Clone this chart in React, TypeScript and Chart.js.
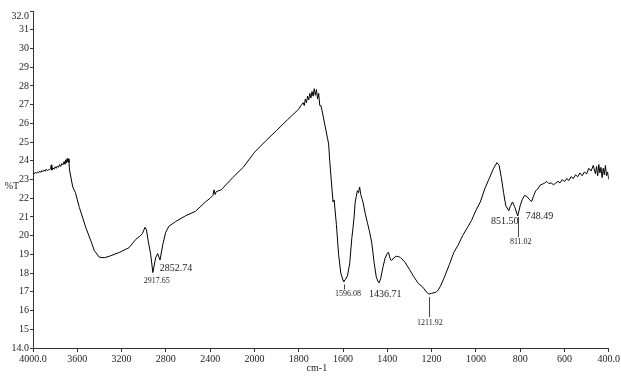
import React, { useEffect, useRef } from "react";
import { Chart, registerables } from "chart.js";

Chart.register(...registerables);

// ---- data ----
const wavenumbers: number[] = [
  4000, 3990, 3980, 3970, 3960, 3950, 3940, 3930, 3920, 3910, 3900, 3890, 3880, 3870, 3860,
  3850, 3840, 3835, 3830, 3820, 3810, 3800, 3790, 3780, 3770, 3760, 3750, 3740, 3730, 3720,
  3712, 3705, 3698, 3692, 3686, 3680, 3675, 3670, 3641, 3617, 3581, 3521, 3476, 3446, 3401,
  3356, 3311, 3222, 3132, 3072, 3042, 3013, 2988, 2975, 2959, 2937, 2917.65, 2892, 2874,
  2852.74, 2827, 2802, 2773, 2713, 2623, 2533, 2443, 2400, 2375, 2365, 2355, 2345, 2300,
  2200, 2100, 2000, 1950, 1900, 1850, 1800, 1790, 1780, 1775, 1770, 1765, 1760, 1755, 1750,
  1745, 1740, 1735, 1730, 1725, 1720, 1715, 1710, 1705, 1700, 1695, 1690, 1680, 1670, 1665,
  1660, 1650, 1645, 1640, 1630, 1620, 1610, 1600, 1596.08, 1590, 1580, 1570, 1560, 1555,
  1550, 1545, 1540, 1535, 1530, 1525, 1520, 1515, 1510, 1500, 1490, 1480, 1470, 1460, 1450,
  1440, 1436.71, 1430, 1420, 1410, 1400, 1395, 1390, 1385, 1380, 1370, 1360, 1350, 1340,
  1320, 1300, 1280, 1260, 1240, 1220, 1211.92, 1200, 1180, 1170, 1160, 1140, 1120, 1100,
  1080, 1060, 1040, 1020, 1000, 980, 960, 940, 920, 905, 895, 885, 875, 865, 851.5, 845,
  835, 825, 811.02, 800, 790, 780, 770, 760, 748.49, 740, 730, 720, 710, 700, 690, 680, 670,
  660, 650, 640, 630, 620, 610, 600, 590, 580, 570, 560, 550, 540, 530, 520, 510, 500, 490,
  480, 470, 460, 455, 450, 445, 440, 435, 430, 425, 420, 415, 410, 405, 400,
];

const transmittance: number[] = [
  23.35, 23.3, 23.38, 23.33, 23.4, 23.36, 23.45, 23.38, 23.48, 23.42, 23.5, 23.44, 23.55, 23.47, 23.52,
  23.52, 23.6, 23.78, 23.5, 23.62, 23.55, 23.68, 23.6, 23.72, 23.65, 23.8, 23.7, 23.85, 23.78, 23.95,
  23.82, 24.05, 23.88, 24.12, 23.95, 24.1, 23.9, 23.5, 22.6, 22.3, 21.5, 20.4, 19.7, 19.2, 18.85,
  18.82, 18.9, 19.1, 19.36, 19.8, 19.94, 20.1, 20.45, 20.3, 19.7, 19.0, 18.03, 18.83, 19.04,
  18.7, 19.55, 20.17, 20.5, 20.75, 21.06, 21.3, 21.8, 22.0, 22.15, 22.45, 22.2, 22.35, 22.45,
  23.08, 23.66, 24.45, 25.05, 25.62, 26.2, 26.76, 26.95, 27.1, 26.95, 27.3, 27.1, 27.45, 27.25, 27.6,
  27.35, 27.7, 27.45, 27.85, 27.5, 27.8, 27.3, 27.6, 26.95, 26.95, 26.7, 26.4, 25.8, 25.2, 24.9,
  24.0, 22.5, 21.8, 21.9, 20.6, 19.0, 18.0, 17.62, 17.55, 17.65, 17.85, 18.5, 19.9, 20.4,
  21.0, 21.8, 22.1, 22.4, 22.3, 22.6, 22.2, 22.0, 21.8, 21.2, 20.7, 20.2, 19.6, 18.6, 17.8,
  17.5, 17.48, 17.7, 18.3, 18.8, 19.05, 19.12, 18.9, 18.7, 18.68, 18.82, 18.9, 18.88, 18.83,
  18.58, 18.2, 17.8, 17.45, 17.25, 16.95, 16.88, 16.92, 16.98, 17.1, 17.3, 17.85, 18.45, 19.1,
  19.5, 20.0, 20.4, 20.8, 21.35, 21.8, 22.5, 23.05, 23.6, 23.9, 23.75, 23.1, 22.3, 21.6, 21.33, 21.55,
  21.8, 21.55, 21.05, 21.6, 21.95, 22.15, 22.1, 21.95, 21.82, 22.1, 22.4, 22.5, 22.7, 22.75, 22.8, 22.9, 22.78,
  22.82, 22.72, 22.8, 22.9, 22.82, 23.0, 22.88, 23.05, 22.95, 23.15, 23.05, 23.25, 23.15, 23.35, 23.2, 23.4, 23.3, 23.6,
  23.45, 23.75, 23.3, 23.7, 23.2, 23.8, 23.35, 23.65, 23.1, 23.6, 23.25, 23.75, 23.2, 23.4, 23.0,
];

const xTickValues: number[] = [4000, 3600, 3200, 2800, 2400, 2000, 1800, 1600, 1400, 1200, 1000, 800, 600, 400];
const xTickLabels: string[] = ["4000.0", "3600", "3200", "2800", "2400", "2000", "1800", "1600", "1400", "1200", "1000", "800", "600", "400.0"];
const yTickValues: number[] = [14, 15, 16, 17, 18, 19, 20, 21, 22, 23, 24, 25, 26, 27, 28, 29, 30, 31, 32];
const yTickLabels: string[] = ["14.0", "15", "16", "17", "18", "19", "20", "21", "22", "23", "24", "25", "26", "27", "28", "29", "30", "31", "32.0"];

const peakWavenumbers: number[] = [2917.65, 2852.74, 1596.08, 1436.71, 1211.92, 851.5, 811.02, 748.49];
const peakTransmittance: number[] = [18.03, 18.7, 17.55, 17.48, 16.88, 21.33, 21.05, 21.82];
const peakLabels: string[] = ["2917.65", "2852.74", "1596.08", "1436.71", "1211.92", "851.50", "811.02", "748.49"];

// ---- styling of peak labels (offsets in px from the peak point) ----
const peakStyle = [
  { dx: 4, dy: 8, size: 8, line: null as null | [number, number] },
  { dx: 16, dy: 8, size: 10, line: null },
  { dx: 4, dy: 12, size: 8, line: [3, 8] as [number, number] },
  { dx: 6, dy: 12, size: 10, line: null },
  { dx: 1, dy: 29, size: 8, line: [3, 23] as [number, number] },
  { dx: -4, dy: 11, size: 10, line: null },
  { dx: 3, dy: 26, size: 8, line: [1, 21] as [number, number] },
  { dx: 8, dy: 15, size: 10, line: null },
];

const FONT = "'Liberation Serif', 'Times New Roman', serif";

// x axis: region above 2000 cm-1 is compressed by a factor of 2
const toAxis = (wn: number) => (wn <= 2000 ? wn : 2000 + (wn - 2000) / 2);
const fromAxis = (t: number) => (t <= 2000 ? t : 2000 + (t - 2000) * 2);

export default function App() {
  const canvasRef = useRef<HTMLCanvasElement | null>(null);

  useEffect(() => {
    document.body.style.margin = "0";
    const canvas = canvasRef.current;
    if (!canvas) return;

    const textPlugin = {
      id: "irText",
      afterDraw(chart: any) {
        const ctx = chart.ctx as CanvasRenderingContext2D;
        const xs = chart.scales.x;
        const ys = chart.scales.y;
        ctx.save();
        ctx.fillStyle = "#222";
        ctx.textBaseline = "middle";
        ctx.font = `10px ${FONT}`;
        // top y label sits slightly below its tick in the reference
        ctx.textAlign = "right";
        ctx.fillText(yTickLabels[yTickLabels.length - 1], chart.chartArea.left - 4, ys.getPixelForValue(32) + 5);
        ctx.textAlign = "center";
        ctx.fillText("%T", 12, 186);
        ctx.fillText("cm-1", (chart.chartArea.left + chart.chartArea.right) / 2 - 4, 368);

        peakWavenumbers.forEach((wn, i) => {
          const st = peakStyle[i];
          const px = xs.getPixelForValue(toAxis(wn));
          const py = ys.getPixelForValue(peakTransmittance[i]);
          if (st.line) {
            ctx.strokeStyle = "#444";
            ctx.lineWidth = 1;
            ctx.beginPath();
            ctx.moveTo(Math.round(px) + 0.5, py + st.line[0]);
            ctx.lineTo(Math.round(px) + 0.5, py + st.line[1]);
            ctx.stroke();
          }
          ctx.font = `${st.size}px ${FONT}`;
          ctx.fillText(peakLabels[i], px + st.dx, py + st.dy);
        });
        ctx.restore();
      },
    };

    const chart = new Chart(canvas, {
      type: "line",
      data: {
        datasets: [
          {
            data: wavenumbers.map((wn, i) => ({ x: toAxis(wn), y: transmittance[i] })),
            borderColor: "#000",
            borderWidth: 1,
            pointRadius: 0,
            tension: 0,
            fill: false,
          },
        ],
      },
      options: {
        responsive: false,
        animation: false,
        devicePixelRatio: 1,
        parsing: false as any,
        layout: { autoPadding: false, padding: { top: 11, right: 8, left: 0, bottom: 0 } } as any,
        plugins: { legend: { display: false }, tooltip: { enabled: false } },
        scales: {
          x: {
            type: "linear",
            reverse: true,
            min: toAxis(400),
            max: toAxis(4000),
            afterBuildTicks: (scale: any) => {
              scale.ticks = xTickValues.map((v) => ({ value: toAxis(v) }));
            },
            afterFit: (scale: any) => {
              scale.height = 36;
            },
            ticks: {
              autoSkip: false,
              maxRotation: 0,
              padding: 1,
              color: "#222",
              font: { family: FONT, size: 10 },
              callback: (value: any) => {
                const wn = Math.round(fromAxis(Number(value)));
                const idx = xTickValues.indexOf(wn);
                return idx >= 0 ? xTickLabels[idx] : "";
              },
            },
            grid: { drawOnChartArea: false, drawTicks: true, tickLength: 4, color: "#333" },
            border: { display: true, color: "#333", width: 1 },
          },
          y: {
            type: "linear",
            min: 14,
            max: 32,
            afterBuildTicks: (scale: any) => {
              scale.ticks = yTickValues.map((v) => ({ value: v }));
            },
            afterFit: (scale: any) => {
              scale.width = 33;
            },
            ticks: {
              autoSkip: false,
              padding: 1,
              color: "#222",
              font: { family: FONT, size: 10 },
              callback: (value: any) => {
                const v = Number(value);
                if (v === 32) return ""; // drawn by the plugin
                const idx = yTickValues.indexOf(v);
                return idx >= 0 ? yTickLabels[idx] : "";
              },
            },
            grid: { drawOnChartArea: false, drawTicks: true, tickLength: 3, color: "#333" },
            border: { display: true, color: "#333", width: 1 },
          },
        },
      },
      plugins: [textPlugin],
    });

    return () => chart.destroy();
  }, []);

  return (
    <div style={{ position: "fixed", left: 0, top: 0, width: 621, height: 384, background: "#fff" }}>
      <canvas ref={canvasRef} width={621} height={384} />
    </div>
  );
}
